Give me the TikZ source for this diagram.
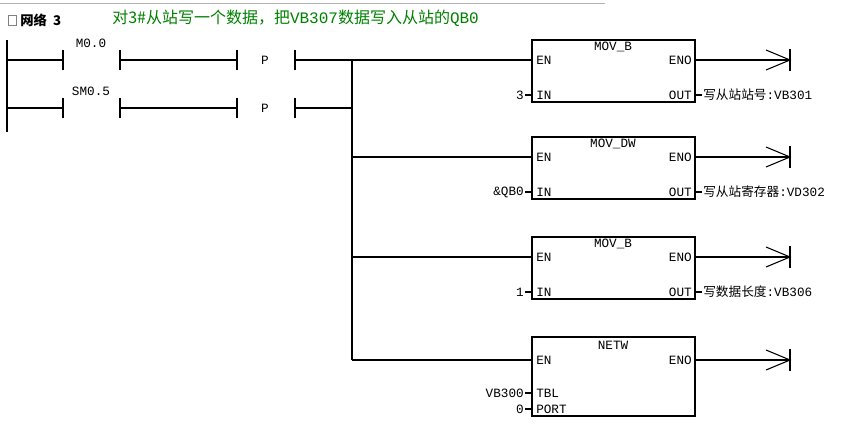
\documentclass[tikz,border=0pt]{standalone}
\usepackage{fontspec}
\setmonofont{Liberation Mono}
\newfontfamily\cjk{Noto Sans CJK SC}
\usetikzlibrary{positioning,calc}
\tikzset{
    wire/.style={draw, thick},
    plate/.style={draw, thick},
    lbl/.style={font=\cjk\fontsize{9.5}{10}\selectfont, inner sep=0pt},
    pin/.style={font=\ttfamily\fontsize{9.5}{10}\selectfont, inner sep=0pt},
    box/.style={draw, thick},
}
\newcommand{\contact}[3]{% y, label, name
    \draw[plate] (63,#1-10) -- (63,#1+10);
    \draw[plate] (120,#1-10) -- (120,#1+10);
    \node[pin] (#3) at (91,#1-17) {#2};
}
\newcommand{\edgeP}[1]{%
    \draw[plate] (237,#1-10) -- (237,#1+10);
    \draw[plate] (295,#1-10) -- (295,#1+10);
    \node[pin] at (265,#1) {P};
}
\newcommand{\coil}[1]{%
    \draw[thick] (766,#1-10) -- (790,#1) -- (766,#1+10);
    \draw[thick] (790,#1-11) -- (790,#1+11);
}
\begin{document}
\begin{tikzpicture}[x=0.75pt,y=-0.75pt]
    \useasboundingbox (0,0) rectangle (851,447);
    \draw[gray!60] (0,3) -- (605,3);
    \draw[gray] (8,15) rectangle (16,25);
    \node[lbl, anchor=west, font=\cjk\bfseries\fontsize{10}{11}\selectfont] (title) at (20,20) {网络\ \ 3};
    \node[lbl, anchor=west, text=green!50!black, font=\cjk\fontsize{12}{13}\selectfont] (note) at (112,18) {对3\#从站写一个数据，把{\ttfamily VB307}数据写入从站的{\ttfamily QB0}};

    % power rail
    \draw[wire] (7,40) -- (7,132);
    \contact{60}{M0.0}{m0}
    \contact{108}{SM0.5}{sm0}
    \foreach \y in {60,108} {
        \draw[wire] (7,\y) -- (63,\y);
        \draw[wire] (120,\y) -- (237,\y);
        \draw[wire] (295,\y) -- (352,\y);
        \edgeP{\y}
    }
    \draw[wire] (352,60) -- (352,360);

    % boxes
    \foreach \t/\name/\inp/\outp/\addr in {40/MOV\_B/3/写从站站号/VB301, 137/MOV\_DW/\&QB0/写从站寄存器/VD302, 237/MOV\_B/1/写数据长度/VB306} {
        \draw[box] (532,\t) rectangle (695,\t+62);
        \node[pin] at (613,\t+7) {\name};
        \node[pin, anchor=west] at (536,\t+20) {EN};
        \node[pin, anchor=east] at (692,\t+20) {ENO};
        \node[pin, anchor=west] at (536,\t+55) {IN};
        \node[pin, anchor=east] at (692,\t+55) {OUT};
        \draw[wire] (352,\t+20) -- (532,\t+20);
        \draw[wire] (695,\t+20) -- (790,\t+20);
        \coil{\t+20}
        \draw[thick] (525,\t+55) -- (532,\t+55);
        \node[pin, anchor=east] at (524,\t+55) {\inp};
        \draw[thick] (695,\t+55) -- (702,\t+55);
        \node[lbl, anchor=west] at (703,\t+55) {\outp{\ttfamily:\addr}};
    }
    \draw[box] (532,337) rectangle (695,416);
    \node[pin] at (613,345) {NETW};
    \node[pin, anchor=west] at (536,360) {EN};
    \node[pin, anchor=east] at (692,360) {ENO};
    \node[pin, anchor=west] at (536,393) {TBL};
    \node[pin, anchor=west] at (536,409) {PORT};
    \draw[wire] (352,360) -- (532,360);
    \draw[wire] (695,360) -- (790,360);
    \coil{360}
    \draw[thick] (525,393) -- (532,393);
    \draw[thick] (525,409) -- (532,409);
    \node[pin, anchor=east] at (524,393) {VB300};
    \node[pin, anchor=east] at (524,409) {0};
\end{tikzpicture}
\end{document}
